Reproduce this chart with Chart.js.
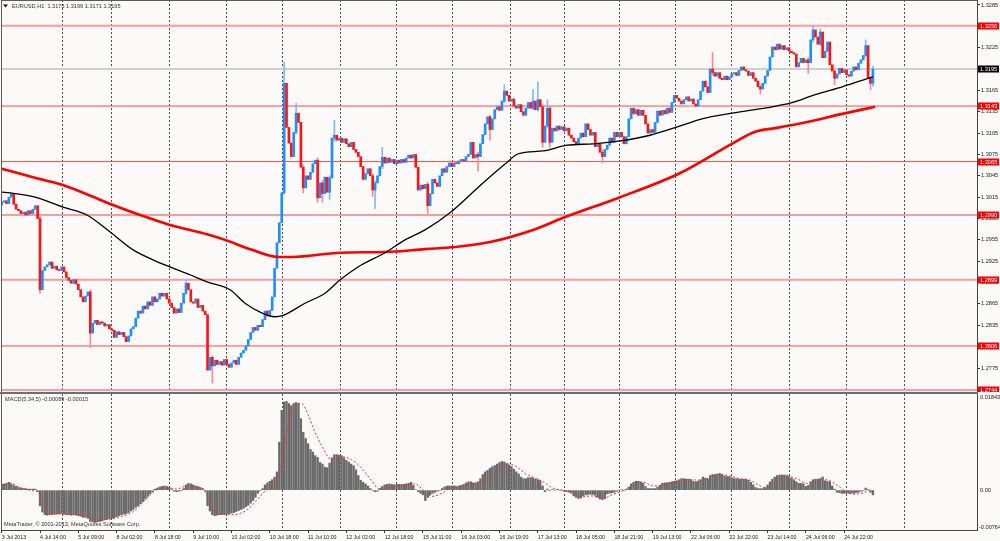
<!DOCTYPE html>
<html>
<head>
<meta charset="utf-8">
<title>EURUSD H1</title>
<script src="https://cdn.jsdelivr.net/npm/chart.js@4.4.1/dist/chart.umd.min.js"></script>
<style>
  html, body { margin: 0; padding: 0; background: #fcf9f9; }
  #wrap { position: relative; width: 1000px; height: 541px; overflow: hidden; background: #fcf9f9; }
  #priceChart { position: absolute; left: 0; top: 0; }
  #macdChart { position: absolute; left: 0; top: 394px; }
  #sep { position: absolute; left: 0; top: 392px; width: 978px; height: 2px; background: #6e6e6e; }
</style>
</head>
<body>
<div id="wrap">
  <canvas id="priceChart" width="1000" height="392"></canvas>
  <div id="sep"></div>
  <canvas id="macdChart" width="1000" height="147"></canvas>
</div>
<script>
// hourly closes, bar 0 = 3 Jul 22:00
const closes = [
  1.3008, 1.3010, 1.3006, 1.3015, 1.3020, 1.3005, 1.2998, 1.2996, 1.2992, 1.2994,
  1.2990, 1.2996, 1.2992, 1.2998, 1.3003, 1.2985, 1.2885, 1.2912, 1.2917, 1.2920,
  1.2924, 1.2915, 1.2918, 1.2913, 1.2912, 1.2917, 1.2910, 1.2902, 1.2898, 1.2894,
  1.2899, 1.2893, 1.2885, 1.2875, 1.2868, 1.2876, 1.2882, 1.2824, 1.2838, 1.2842,
  1.2836, 1.2840, 1.2838, 1.2834, 1.2836, 1.2830, 1.2828, 1.2818, 1.2826, 1.2822,
  1.2825, 1.2819, 1.2812, 1.2820, 1.2830, 1.2833, 1.2845, 1.2855, 1.2852, 1.2862,
  1.2858, 1.2868, 1.2863, 1.2875, 1.2868, 1.2872, 1.2880, 1.2876, 1.2880, 1.2872,
  1.2866, 1.2860, 1.2852, 1.2858, 1.2853, 1.2866, 1.2880, 1.2894, 1.2885, 1.2868,
  1.2866, 1.2872, 1.2860, 1.2863, 1.2855, 1.2850, 1.2772, 1.2790, 1.2778, 1.2786,
  1.2780, 1.2784, 1.2779, 1.2787, 1.2780, 1.2776, 1.2782, 1.2786, 1.2780, 1.2790,
  1.2796, 1.2800, 1.2806, 1.2815, 1.2825, 1.2832, 1.2828, 1.2835, 1.2833, 1.2843,
  1.2855, 1.2848, 1.2856, 1.2875, 1.2915, 1.2951, 1.2979, 1.3021, 1.3175, 1.3113,
  1.3091, 1.3072, 1.3106, 1.3133, 1.3120, 1.3057, 1.3028, 1.3045, 1.3040, 1.3050,
  1.3062, 1.3067, 1.3014, 1.3035, 1.3020, 1.3043, 1.3022, 1.3042, 1.3098, 1.3102,
  1.3095, 1.3098, 1.3092, 1.3097, 1.3090, 1.3086, 1.3092, 1.3082, 1.3078, 1.3072,
  1.3058, 1.3040, 1.3048, 1.3055, 1.3045, 1.3025, 1.3035, 1.3045, 1.3058, 1.3071,
  1.3063, 1.3070, 1.3064, 1.3068, 1.3062, 1.3067, 1.3063, 1.3068, 1.3064, 1.3070,
  1.3074, 1.3070, 1.3075, 1.3057, 1.3025, 1.3032, 1.3027, 1.3033, 1.3003, 1.3020,
  1.3040, 1.3035, 1.3030, 1.3045, 1.3055, 1.3050, 1.3058, 1.3063, 1.3058, 1.3063,
  1.3062, 1.3066, 1.3068, 1.3066, 1.3072, 1.3075, 1.3092, 1.3070, 1.3075, 1.3072,
  1.3090, 1.3103, 1.3118, 1.3128, 1.3110, 1.3125, 1.3138, 1.3142, 1.3137, 1.3150,
  1.3164, 1.3158, 1.3150, 1.3153, 1.3143, 1.3140, 1.3145, 1.3135, 1.3130, 1.3140,
  1.3148, 1.3140, 1.3150, 1.3138, 1.3152, 1.3142, 1.3092, 1.3115, 1.3140, 1.3092,
  1.3112, 1.3108, 1.3115, 1.3110, 1.3114, 1.3108, 1.3112, 1.3102, 1.3098, 1.3093,
  1.3090, 1.3098, 1.3105, 1.3100, 1.3118, 1.3110, 1.3102, 1.3106, 1.3086, 1.3090,
  1.3078, 1.3072, 1.3082, 1.3088, 1.3098, 1.3092, 1.3106, 1.3100, 1.3106, 1.3100,
  1.3090, 1.3100, 1.3125, 1.3140, 1.3132, 1.3138, 1.3130, 1.3137, 1.3130, 1.3118,
  1.3105, 1.3110, 1.3106, 1.3120, 1.3136, 1.3130, 1.3137, 1.3132, 1.3140, 1.3134,
  1.3148, 1.3158, 1.3154, 1.3150, 1.3146, 1.3152, 1.3156, 1.3150, 1.3153, 1.3146,
  1.3143, 1.3152, 1.3164, 1.3178, 1.3170, 1.3162, 1.3195, 1.3190, 1.3185, 1.3190,
  1.3182, 1.3180, 1.3185, 1.3180, 1.3184, 1.3188, 1.3190, 1.3186, 1.3193, 1.3198,
  1.3194, 1.3192, 1.3186, 1.3190, 1.3182, 1.3178, 1.3170, 1.3167, 1.3175, 1.3185,
  1.3193, 1.3212, 1.3226, 1.3222, 1.3230, 1.3223, 1.3228, 1.3222, 1.3225, 1.3220,
  1.3218, 1.3216, 1.3198, 1.3204, 1.3210, 1.3204, 1.3208, 1.3204, 1.3236, 1.3250,
  1.3240, 1.3230, 1.3247, 1.3211, 1.3220, 1.3233, 1.3201, 1.3192, 1.3182, 1.3188,
  1.3196, 1.3190, 1.3194, 1.3187, 1.3185, 1.3192, 1.3198, 1.3194, 1.3203, 1.3208,
  1.3214, 1.3228, 1.3182, 1.3175, 1.3195
];
const firstOpen = 1.3004;

// bars with visible shadows
const wickBars  = [16, 37, 77, 88, 118, 123, 126, 132, 134, 137, 139, 155, 156, 159, 178, 199, 204,
                   210, 222, 224, 226, 228, 229, 251, 297, 317, 337, 339, 342, 348, 361, 363, 364];
const wickLows  = [1.2880, 1.2804, 1.2878, 1.2754, 1.3019, 1.3104, 1.3021, 1.3008, 1.3008, 1.3012, 1.3094,
                   1.3016, 1.2999, 1.3055, 1.2992, 1.3052, 1.3095, 1.3148, 1.3138, 1.3136, 1.3085, 1.3112,
                   1.3085, 1.3063, 1.3186, 1.3160, 1.3189, 1.3233, 1.3228, 1.3173, 1.3212, 1.3166, 1.3171];
const wickHighs = [1.2988, 1.2885, 1.2899, 1.2792, 1.3205, 1.3147, 1.3060, 1.3070, 1.3038, 1.3045, 1.3123,
                   1.3048, 1.3038, 1.3085, 1.3036, 1.3078, 1.3130, 1.3173, 1.3166, 1.3177, 1.3145, 1.3152,
                   1.3143, 1.3081, 1.3218, 1.3173, 1.3211, 1.3256, 1.3252, 1.3194, 1.3236, 1.3184, 1.3199];

// moving averages, read at sample bars
const blackMaBars = [0, 3.5, 14, 25.6, 35.6, 45.3, 54.9, 63.2, 70.3, 78.7, 85.8, 95.4, 101.7, 108.8, 114.2,
                     117.6, 126.7, 135.1, 141.4, 148.9, 160.2, 168.5, 176.9, 187.3, 201.1, 211.2, 215.8,
                     226.2, 236.2, 247.1, 258.4, 270.9, 282.6, 292.6, 305.2, 321.9, 329.4, 339.9, 351.2, 362, 364];
const blackMaVals = [1.3022, 1.3021, 1.3015, 1.3001, 1.2990, 1.2966, 1.2941, 1.2927, 1.2917, 1.2906, 1.2896,
                     1.2885, 1.2866, 1.2852, 1.2847, 1.2849, 1.2866, 1.2880, 1.2899, 1.2917, 1.2937, 1.2955,
                     1.2969, 1.2993, 1.3035, 1.3064, 1.3076, 1.3080, 1.3088, 1.3090, 1.3094, 1.3102, 1.3114,
                     1.3125, 1.3133, 1.3142, 1.3147, 1.3159, 1.3170, 1.3182, 1.3184];
const redMaBars = [0, 13.1, 25.6, 35.6, 46.5, 57.8, 70.3, 77.4, 85.8, 93.3, 104.6, 115.5, 121.3, 141.4,
                   160.2, 176.9, 189.4, 204, 222, 234.6, 258.4, 283.5, 305.6, 314.8, 323.2, 337, 351.2, 364.9];
const redMaVals = [1.3055, 1.3043, 1.3032, 1.3019, 1.3004, 1.2990, 1.2976, 1.2970, 1.2963, 1.2955, 1.2941,
                   1.2931, 1.2931, 1.2937, 1.2938, 1.2942, 1.2945, 1.2952, 1.2969, 1.2986, 1.3015, 1.3049,
                   1.3091, 1.3107, 1.3112, 1.3121, 1.3132, 1.3142];

const levels = [1.3256, 1.3143, 1.3065, 1.2990, 1.2899, 1.2806, 1.2744];
const bidPrice = 1.3195;
const priceTicks = [1.2775, 1.2805, 1.2835, 1.2865, 1.2895, 1.2925, 1.2955, 1.2985, 1.3015, 1.3045,
                    1.3075, 1.3105, 1.3135, 1.3165, 1.3195, 1.3225, 1.3255, 1.3285];

// MACD(5,34,5) main line in points (1 = 0.0001)
const macdHist = [
  11, 12, 13, 15, 12, 9, 7, 5, 4, 3,
  3, 2, 2, 2, 2, -3, -30, -42, -47, -48,
  -47, -47, -46, -46, -45, -45, -46, -47, -47, -48,
  -47, -48, -49, -50, -52, -52, -54, -60, -61, -62,
  -61, -60, -59, -57, -56, -55, -54, -53, -51, -49,
  -47, -46, -45, -43, -40, -37, -33, -30, -26, -22,
  -17, -12, -7, -3, 2, 4, 6, 7, 8, 7,
  5, 1, -2, -3, -2, -1, 3, 10, 13, 12,
  10, 8, 7, 5, 3, -2, -30, -40, -47, -49,
  -48, -47, -47, -46, -45, -45, -44, -43, -41, -39,
  -37, -35, -32, -29, -25, -20, -14, -6, -1, 3,
  10, 14, 17, 20, 25, 35, 92, 153, 169, 170,
  166, 162, 166, 168, 166, 137, 111, 99, 89, 78,
  73, 66, 63, 53, 50, 44, 43, 52, 62, 68,
  68, 67, 66, 62, 57, 54, 50, 47, 39, 28,
  19, 15, 12, 8, 3, -1, -3, -2, 3, 7,
  10, 11, 12, 11, 10, 11, 11, 10, 11, 12,
  13, 15, 9, 1, -3, -6, -9, -20, -14, -9,
  -6, -4, -2, -1, 3, 6, 8, 8, 8, 8,
  7, 8, 9, 11, 14, 16, 16, 14, 14, 16,
  22, 30, 35, 38, 42, 45, 47, 50, 53, 55,
  54, 51, 48, 45, 40, 35, 31, 25, 22, 22,
  24, 24, 23, 21, 20, 18, 8, -3, 2, -1,
  1, 0, 1, 0, 0, -2, -3, -4, -6, -11,
  -14, -16, -15, -11, -9, -8, -8, -8, -10, -14,
  -17, -18, -16, -7, -6, -5, -4, -2, 0, 1,
  -1, 2, 6, 12, 15, 17, 17, 16, 13, 7,
  3, 3, 3, 3, 6, 9, 13, 14, 14, 15,
  16, 17, 18, 20, 22, 22, 21, 21, 20, 17,
  16, 17, 20, 25, 23, 21, 28, 30, 30, 31,
  32, 30, 27, 26, 26, 24, 22, 22, 21, 21,
  21, 21, 19, 15, 10, 5, 3, 3, 3, 5,
  10, 16, 21, 25, 28, 29, 29, 29, 28, 26,
  23, 20, 16, 13, 13, 12, 7, 9, 16, 20,
  21, 21, 22, 25, 18, 17, 16, 8, 2, -4,
  -5, -6, -6, -6, -6, -6, -6, -5, -4, -2,
  -1, 4, 1, -4, -9
];
// signal line, read at sample bars (points)
const signalBars = [0, 3.5, 7.6, 13, 15, 17.4, 19.5, 27, 35.5, 39.7, 42.5, 49.4, 55, 60.6, 64.8, 69, 73,
  77.3, 81.5, 85, 87, 89.8, 96.8, 102.4, 106.5, 109.3, 113.5, 116.3, 118.4, 120.5, 123, 125.3, 128, 131,
  133.7, 137.9, 142, 146.3, 150.4, 154.6, 157.4, 160.2, 164.4, 169.9, 172.7, 175.5, 179.7, 183.9, 188,
  193.6, 199.2, 204.8, 210.3, 214.5, 218.7, 222.9, 227, 229.8, 234, 238.2, 242.4, 246.5, 251.4, 255.6,
  259.8, 265.3, 268.1, 272.3, 276.5, 282, 287.6, 291.8, 296, 300.2, 304.4, 308.5, 312.7, 316.9, 319.7,
  323.8, 328, 332.2, 336.4, 340.5, 344.7, 348.9, 353.1, 356, 360, 362.8, 364];
const signalVals = [8, 13, 5, -1, -3, -25, -44, -46, -49, -58, -57, -51, -41, -16, 1, 5, 2,
  8, 6, -3, -22, -44, -47, -38, -20, -5, 12, 40, 90, 140, 166, 166, 145, 110,
  85, 58, 64, 58, 42, 18, 3, 2, 10, 11, 12, 3, -12, -6, 5,
  8, 14, 30, 50, 47, 32, 23, 14, 5, 0, -3, -13, -11, -15, -8,
  -1, 12, 15, 8, 10, 17, 20, 19, 24, 30, 27, 22, 19, 8, 4,
  18, 27, 22, 13, 17, 20, 10, -4, -8, -5, 0, -1.5];

const dayGridBars = [25.5, 46, 70, 94, 117.5, 141.5, 165, 188.5, 212.5, 235, 258, 281.5, 305, 329, 353, 377];
const labelBars = [0, 16, 32, 48, 64, 80, 96, 112, 128, 144, 160, 176, 192, 208, 224, 240, 256, 272, 288, 304, 320, 336, 352];
const labelTexts = ['3 Jul 2013', '4 Jul 14:00', '5 Jul 09:00', '8 Jul 02:00', '8 Jul 18:00', '9 Jul 10:00',
  '10 Jul 02:00', '10 Jul 18:00', '11 Jul 10:00', '12 Jul 02:00', '12 Jul 18:00', '15 Jul 11:00',
  '16 Jul 03:00', '16 Jul 19:00', '17 Jul 13:00', '18 Jul 05:00', '18 Jul 21:00', '19 Jul 13:00',
  '22 Jul 06:00', '22 Jul 22:00', '23 Jul 14:00', '24 Jul 06:00', '24 Jul 22:00'];

const chartTitle = 'EURUSD,H1  1.3175 1.3199 1.3171 1.3195';
const macdTitle = 'MACD(5,34,5) -0.00089 -0.00015';
const copyright = 'MetaTrader, \u00a9 2001-2013, MetaQuotes Software Corp.';

const X_MIN = -0.3, X_MAX = 407.5;
const PRICE_MIN = 1.27413, PRICE_MAX = 1.32920;
const MACD_MIN = -0.00764, MACD_MAX = 0.01843;
const FONT = '"Liberation Sans", Arial, sans-serif';
const BULL = '#1e8fff', BEAR = '#ff1414';

const opens = closes.map((c, i) => i === 0 ? firstOpen : closes[i - 1]);
const isBull = i => closes[i] >= opens[i];

const levelSets = levels.map((lv, k) => {
  const soft = [0, 3, 4, 6].includes(k);
  return {
    type: 'line',
    data: [{ x: X_MIN, y: lv }, { x: X_MAX, y: lv }],
    borderColor: soft ? '#ff9a9a' : '#ff4a4a',
    borderWidth: soft ? 2 : 1,
    pointRadius: 0,
    order: 10
  };
});

const boxLabel = (ctx, py, text, bg) => {
  ctx.fillStyle = bg;
  ctx.fillRect(978, Math.round(py) - 3.5, 21, 7);
  ctx.fillStyle = '#fff';
  ctx.textAlign = 'left';
  ctx.textBaseline = 'middle';
  ctx.fillText(text, 980, Math.round(py));
};

const priceOverlay = {
  id: 'priceOverlay',
  afterDraw(chart) {
    const { ctx, chartArea: a, scales: { y } } = chart;
    ctx.save();
    ctx.strokeStyle = '#5a5a5a';
    ctx.lineWidth = 1;
    ctx.beginPath();
    ctx.moveTo(a.left + 0.5, a.top);
    ctx.lineTo(a.left + 0.5, a.bottom);
    ctx.moveTo(a.left, a.top + 0.5);
    ctx.lineTo(a.right, a.top + 0.5);
    ctx.stroke();

    ctx.fillStyle = '#111';
    ctx.beginPath();
    ctx.moveTo(3, 4.5); ctx.lineTo(8, 4.5); ctx.lineTo(5.5, 7.5);
    ctx.closePath();
    ctx.fill();
    ctx.font = '5.6px ' + FONT;
    ctx.fillStyle = '#333';
    ctx.textAlign = 'left';
    ctx.textBaseline = 'middle';
    ctx.fillText(chartTitle, 12, 6);

    levels.forEach(lv => boxLabel(ctx, y.getPixelForValue(lv), lv.toFixed(4), '#ff0000'));
    boxLabel(ctx, y.getPixelForValue(bidPrice), bidPrice.toFixed(4), '#000000');
    ctx.restore();
  }
};

new Chart(document.getElementById('priceChart'), {
  type: 'bar',
  data: {
    datasets: [
      {
        type: 'line',
        data: blackMaBars.map((b, k) => ({ x: b, y: blackMaVals[k] })),
        borderColor: '#000000', borderWidth: 1.3, pointRadius: 0,
        cubicInterpolationMode: 'monotone', order: 0
      },
      {
        type: 'line',
        data: redMaBars.map((b, k) => ({ x: b, y: redMaVals[k] })),
        borderColor: '#ff0000', borderWidth: 2.6, pointRadius: 0,
        cubicInterpolationMode: 'monotone', order: 1
      },
      {
        data: closes.map((c, i) => ({ x: i, y: [opens[i], c] })),
        backgroundColor: closes.map((c, i) => isBull(i) ? BULL : BEAR),
        barThickness: 2, minBarLength: 1, grouped: false, order: 2
      },
      {
        data: wickBars.map((b, k) => ({ x: b, y: [wickLows[k], wickHighs[k]] })),
        backgroundColor: wickBars.map(b => isBull(b) ? '#7dbcff' : '#ff8a8a'),
        barThickness: 1, grouped: false, order: 3
      },
      {
        type: 'line',
        data: [{ x: X_MIN, y: bidPrice }, { x: X_MAX, y: bidPrice }],
        borderColor: '#cfcfcf', borderWidth: 2, pointRadius: 0, order: 11
      },
      ...levelSets
    ]
  },
  options: {
    responsive: false,
    animation: false,
    layout: { padding: { left: 1, top: 0, right: 0, bottom: 0 } },
    plugins: { legend: { display: false }, tooltip: { enabled: false } },
    scales: {
      x: {
        type: 'linear', min: X_MIN, max: X_MAX, offset: false,
        afterBuildTicks: s => { s.ticks = dayGridBars.map(v => ({ value: v })); },
        afterFit: s => { s.height = 0; s.paddingLeft = 0; s.paddingRight = 0; },
        ticks: { display: false },
        grid: { color: 'rgba(60,60,60,0.9)', lineWidth: 1, drawTicks: false, offset: false },
        border: { display: false, dash: [2, 2] }
      },
      y: {
        type: 'linear', position: 'right', min: PRICE_MIN, max: PRICE_MAX,
        afterBuildTicks: s => { s.ticks = priceTicks.map(v => ({ value: v })); },
        afterFit: s => { s.width = 23; s.paddingTop = 0; s.paddingBottom = 0; },
        ticks: {
          callback: v => Number(v).toFixed(4), autoSkip: false, padding: 1,
          color: '#222', font: { family: FONT, size: 5.6 }
        },
        grid: { drawOnChartArea: false, drawTicks: true, tickLength: 3, tickColor: '#333' },
        border: { display: true, color: '#444', width: 1 }
      }
    }
  },
  plugins: [priceOverlay]
});

const macdOverlay = {
  id: 'macdOverlay',
  afterDraw(chart) {
    const { ctx, chartArea: a, scales: { y } } = chart;
    ctx.save();
    ctx.strokeStyle = '#5a5a5a';
    ctx.lineWidth = 1;
    ctx.beginPath();
    ctx.moveTo(a.left + 0.5, a.top);
    ctx.lineTo(a.left + 0.5, a.bottom);
    ctx.stroke();

    ctx.font = '5.6px ' + FONT;
    ctx.fillStyle = '#333';
    ctx.textAlign = 'left';
    ctx.textBaseline = 'middle';
    ctx.fillText(macdTitle, 5, 5);
    ctx.fillText(copyright, 4, 130);

    ctx.fillStyle = '#222';
    ctx.textBaseline = 'top';
    ctx.fillText(MACD_MAX.toFixed(5), 980, a.top + 1);
    ctx.textBaseline = 'middle';
    ctx.fillText('0.00', 980, y.getPixelForValue(0));
    ctx.textBaseline = 'bottom';
    ctx.fillText(MACD_MIN.toFixed(5), 979, a.bottom);
    ctx.restore();
  }
};

new Chart(document.getElementById('macdChart'), {
  type: 'bar',
  data: {
    datasets: [
      {
        type: 'line',
        data: signalBars.map((b, k) => ({ x: b, y: signalVals[k] / 10000 })),
        borderColor: '#ff2a2a', borderWidth: 1, borderDash: [2, 2], pointRadius: 0,
        cubicInterpolationMode: 'monotone', order: 0
      },
      {
        data: macdHist.map((v, i) => ({ x: i, y: v / 10000 })),
        backgroundColor: '#6a6a6a',
        barThickness: 1.7, grouped: false, order: 1
      }
    ]
  },
  options: {
    responsive: false,
    animation: false,
    layout: { padding: { left: 1, top: 0, right: 0, bottom: 0 } },
    plugins: { legend: { display: false }, tooltip: { enabled: false } },
    scales: {
      x: {
        type: 'linear', min: X_MIN, max: X_MAX, offset: false,
        afterBuildTicks: s => { s.ticks = dayGridBars.map(v => ({ value: v })); },
        afterFit: s => { s.height = 0; s.paddingLeft = 0; s.paddingRight = 0; },
        ticks: { display: false },
        grid: { color: 'rgba(60,60,60,0.9)', lineWidth: 1, drawTicks: false, offset: false },
        border: { display: false, dash: [2, 2] }
      },
      xl: {
        type: 'linear', position: 'bottom', min: X_MIN, max: X_MAX, offset: false,
        afterBuildTicks: s => { s.ticks = labelBars.map(v => ({ value: v })); },
        afterFit: s => { s.height = 11; s.paddingLeft = 0; s.paddingRight = 0; },
        ticks: {
          callback: v => labelTexts[labelBars.indexOf(v)],
          align: 'start', autoSkip: false, maxRotation: 0, minRotation: 0, padding: 1,
          color: '#222', font: { family: FONT, size: 5.3 }
        },
        grid: { drawOnChartArea: false, drawTicks: true, tickLength: 3, tickColor: '#333', offset: false },
        border: { display: true, color: '#444', width: 1 }
      },
      y: {
        type: 'linear', position: 'right', min: MACD_MIN, max: MACD_MAX,
        afterFit: s => { s.width = 23; s.paddingTop = 0; s.paddingBottom = 0; },
        ticks: { display: false },
        grid: { drawOnChartArea: false, drawTicks: false },
        border: { display: true, color: '#444', width: 1 }
      }
    }
  },
  plugins: [macdOverlay]
});
</script>
</body>
</html>
